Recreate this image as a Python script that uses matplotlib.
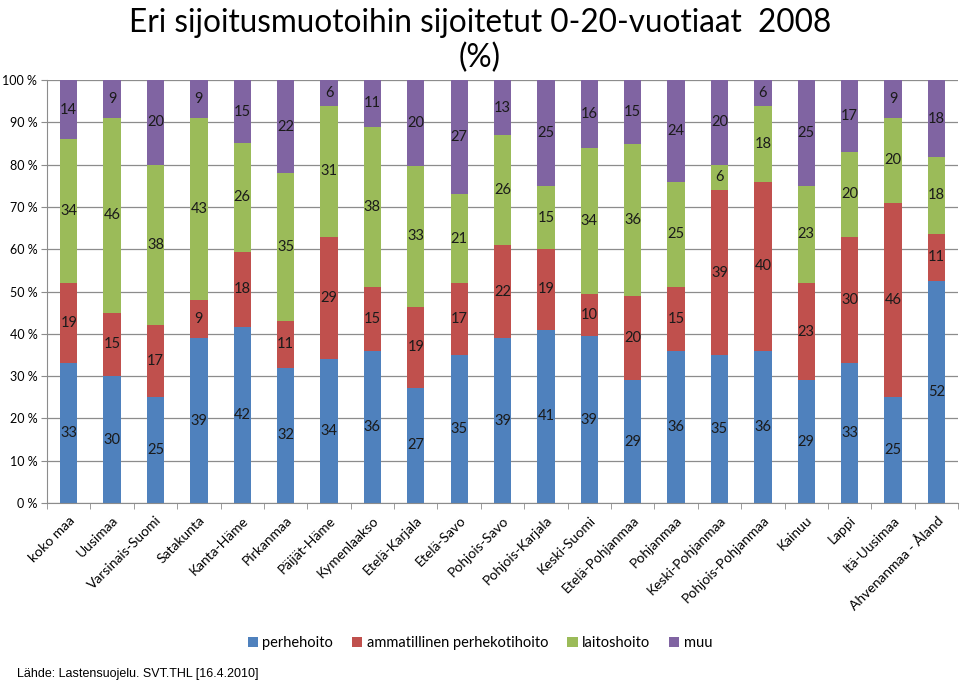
import matplotlib

matplotlib.use("Agg")
import matplotlib.pyplot as plt
import numpy as np
from matplotlib.patches import Patch

regions = ["koko maa", "Uusimaa", "Varsinais-Suomi", "Satakunta", "Kanta-Häme",
           "Pirkanmaa", "Päijät-Häme", "Kymenlaakso", "Etelä-Karjala", "Etelä-Savo",
           "Pohjois-Savo", "Pohjois-Karjala", "Keski-Suomi", "Etelä-Pohjanmaa",
           "Pohjanmaa", "Keski-Pohjanmaa", "Pohjois-Pohjanmaa", "Kainuu", "Lappi",
           "Itä-Uusimaa", "Ahvenanmaa - Åland"]
perhehoito = [33, 30, 25, 39, 42, 32, 34, 36, 27, 35, 39, 41, 39, 29, 36, 35, 36, 29, 33, 25, 52]
ammatillinen = [19, 15, 17, 9, 18, 11, 29, 15, 19, 17, 22, 19, 10, 20, 15, 39, 40, 23, 30, 46, 11]
laitoshoito = [34, 46, 38, 43, 26, 35, 31, 38, 33, 21, 26, 15, 34, 36, 25, 6, 18, 23, 20, 20, 18]
muu = [14, 9, 20, 9, 15, 22, 6, 11, 20, 27, 13, 25, 16, 15, 24, 20, 6, 25, 17, 9, 18]

series = [("perhehoito", perhehoito, "#4F81BD"),
          ("ammatillinen perhekotihoito", ammatillinen, "#C0504D"),
          ("laitoshoito", laitoshoito, "#9BBB59"),
          ("muu", muu, "#8064A2")]

fig = plt.figure(figsize=(9.6, 6.85), dpi=100)
ax = fig.add_axes([0.049, 0.2657, 0.949, 0.6173])

x = np.arange(len(regions))
totals = np.sum([s[1] for s in series], axis=0)
bottom = np.zeros(len(regions))
for name, vals, col in series:
    pct = np.array(vals) / totals * 100
    ax.bar(x, pct, 0.4, bottom=bottom, color=col, zorder=2)
    for xi, b, p, v in zip(x, bottom, pct, vals):
        ax.text(xi, b + p / 2, str(v), ha="center", va="center", fontsize=10.5,
                family="Lato", color="#1a1a1a", zorder=3)
    bottom += pct

ax.set_xlim(-0.5, len(regions) - 0.5)
ax.set_ylim(0, 100)
ax.set_yticks(np.arange(0, 101, 10))
ax.set_yticklabels([f"{v} %" for v in range(0, 101, 10)], family="Lato", fontsize=9)
ax.yaxis.grid(True, color="#8c8c8c", linewidth=0.9, zorder=0)
ax.set_xticks(x)
ax.set_xticklabels(regions, rotation=45, ha="right", rotation_mode="anchor",
                   family="Lato", fontsize=10)
ax.set_xticks(np.arange(-0.5, len(regions)), minor=True)
ax.tick_params(axis="x", which="major", length=0, pad=8)
ax.tick_params(axis="x", which="minor", length=4, color="#8c8c8c")
ax.tick_params(axis="y", length=4, color="#8c8c8c", pad=3)
for s in ["top", "right"]:
    ax.spines[s].set_visible(False)
for s in ["left", "bottom"]:
    ax.spines[s].set_color("#8c8c8c")

fig.text(0.5, 0.966, "Eri sijoitusmuotoihin sijoitetut 0-20-vuotiaat  2008",
         ha="center", va="center", fontsize=22.7, family="Lato")
fig.text(0.5, 0.916, "(%)", ha="center", va="center", fontsize=22.7, family="Lato")

handles = [Patch(facecolor=c, label=n) for n, _, c in series]
fig.legend(handles=handles, loc="center", bbox_to_anchor=(0.5, 0.061), ncol=4,
           frameon=False, prop={"family": "Lato", "size": 10.5}, handlelength=0.7,
           handleheight=0.7, handletextpad=0.3, columnspacing=1.3)

fig.text(0.018, 0.016, "Lähde: Lastensuojelu. SVT.THL [16.4.2010]", ha="left",
         va="center", fontsize=9, family="Liberation Sans")

fig.savefig("out.png", dpi=100)
